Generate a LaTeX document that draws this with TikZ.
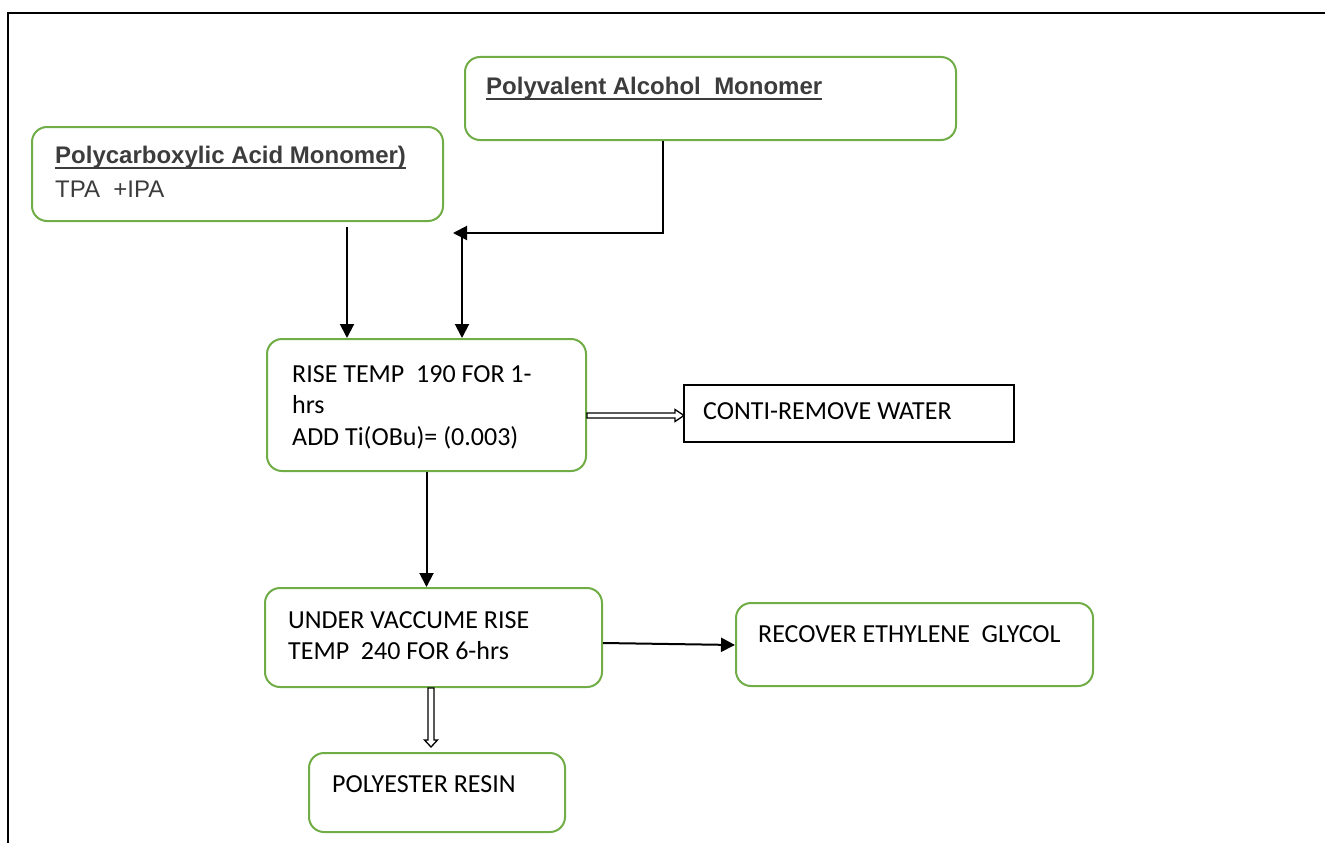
\documentclass[tikz,border=0pt]{standalone}
\usepackage{fontspec}
\setmainfont{Carlito}
\newfontfamily\arialfont{Liberation Sans}
\usetikzlibrary{arrows.meta,calc}
\definecolor{boxgreen}{HTML}{70AD47}
\definecolor{headgray}{HTML}{3C3C3C}

\begin{document}
\begin{tikzpicture}[x=1pt,y=-1pt,
  greenbox/.style={draw=boxgreen, line width=2pt, rounded corners=15pt, inner sep=0pt},
  plainbox/.style={draw=black, line width=1.8pt, inner sep=0pt},
  arr/.style={draw=black, line width=2pt, -{Triangle[length=14pt,width=14pt]}},
  hollow/.style={draw=black, line width=1.3pt, fill=white, line join=miter},
  cal/.style={font=\fontsize{26}{31.7}\selectfont, inner sep=0pt, anchor=base west, align=left},
  ari/.style={font=\arialfont\fontsize{24}{28}\selectfont, text=headgray, inner sep=0pt, anchor=base west},
  arib/.style={font=\arialfont\bfseries\fontsize{24}{28}\selectfont, text=headgray, inner sep=0pt, anchor=base west},
  uline/.style={draw=headgray, line width=1.5pt},
]
\useasboundingbox (0,0) rectangle (1325,843);

% page frame (left and top edges)
\draw[line width=2pt] (8,843) -- (8,13) -- (1325,13);

% boxes
\node[greenbox, minimum width=411pt, minimum height=94pt] (acid) at (237.5,174) {};
\node[greenbox, minimum width=491pt, minimum height=83pt] (alcohol) at (710.5,98.5) {};
\node[greenbox, minimum width=319pt, minimum height=132pt] (rise) at (426.5,405) {};
\node[plainbox, minimum width=330pt, minimum height=57pt] (water) at (849,413.5) {};
\node[greenbox, minimum width=337pt, minimum height=99pt] (vac) at (433.5,637.5) {};
\node[greenbox, minimum width=357pt, minimum height=83pt] (glycol) at (914.5,644.5) {};
\node[greenbox, minimum width=256pt, minimum height=79pt] (resin) at (437,792.5) {};

% texts (multi-line nodes are placed by the baseline of their last line)
\node[arib] (acidhead) at (55,163.5) {Polycarboxylic Acid Monomer)};
\draw[uline] ([yshift=-4.5pt]acidhead.base west) -- ([yshift=-4.5pt]acidhead.base east);
\node[ari] (acidsub) at (55,197) {TPA\ \ +IPA};
\node[arib] (alchead) at (486,95) {Polyvalent Alcohol\ \ Monomer};
\draw[uline] ([yshift=-4pt]alchead.base west) -- ([yshift=-4pt]alchead.base east);
\node[cal] (risetxt) at (292,445.4) {RISE TEMP\ \ 190 FOR 1-\\hrs\\ADD Ti(OBu)= (0.003)};
\node[cal] (watertxt) at (703,419) {CONTI-REMOVE WATER};
\node[cal] (vactxt) at (288,659.7) {UNDER VACCUME RISE\\TEMP\ \ 240 FOR 6-hrs};
\node[cal] (glycoltxt) at (758,642) {RECOVER ETHYLENE\ \ GLYCOL};
\node[cal] (resintxt) at (332,792) {POLYESTER RESIN};

% connectors
\coordinate (acidout) at ([xshift=109.5pt,yshift=-5pt]acid.south);
\draw[arr] (acidout) -- (acidout |- rise.north);

\coordinate (merge) at (453,233);
\draw[arr] ([xshift=-47.5pt]alcohol.south) |- (merge);
\coordinate (dropin) at (462,233);
\draw[arr] (dropin) -- (dropin |- rise.north);

\draw[hollow] ([yshift=-10.5pt]rise.east) ++(0,-2.5) -- ++(88,0) -- ++(0,-3.5)
  -- ++(9,6) -- ++(-9,6) -- ++(0,-3.5) -- ++(-88,0) -- cycle;

\draw[arr] (rise.south) -- (rise.south |- vac.north);

\draw[arr] ([yshift=-5.5pt]vac.east) -- ([yshift=-0.5pt]glycol.west);

\draw[hollow] ([xshift=-2.5pt]vac.south) ++(-3,0) -- ++(0,52) -- ++(-3.5,0)
  -- ++(6.5,7) -- ++(6.5,-7) -- ++(-3.5,0) -- ++(0,-52) -- cycle;
\end{tikzpicture}
\end{document}
